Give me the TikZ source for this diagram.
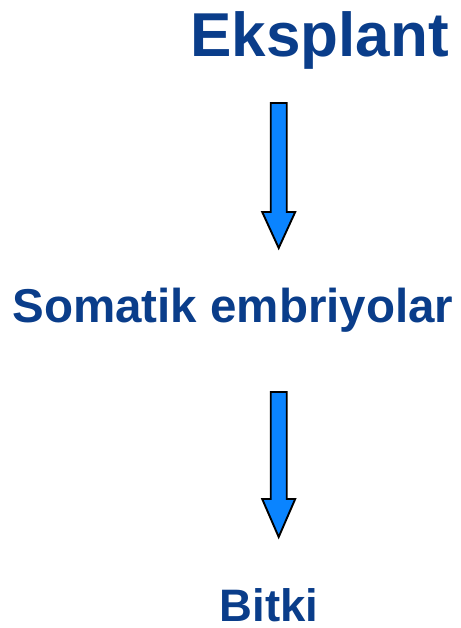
\documentclass[tikz,border=0pt]{standalone}
\usepackage{fontspec}
\setmainfont{Liberation Sans}
\definecolor{titleblue}{HTML}{0A3D8A}
\definecolor{arrowblue}{HTML}{0A84FF}
\tikzset{
  label text/.style={inner sep=0pt, anchor=base, text=titleblue, font=\bfseries},
  blockarrow/.style={draw=black, fill=arrowblue, line width=1.9pt, line join=miter}
}
% block arrow pointing down: top centre x, top y, head start y, tip y
\newcommand{\downblock}[4]{%
  \draw[blockarrow] (#1-8,-#2) -- (#1+8,-#2) -- (#1+8,-#3) -- (#1+16.5,-#3)
    -- (#1,-#4) -- (#1-16.5,-#3) -- (#1-8,-#3) -- cycle;}
\begin{document}
\begin{tikzpicture}[x=1pt,y=1pt]
  \useasboundingbox (0,0) rectangle (460,-628);
  \node[label text, font=\bfseries\fontsize{62}{62}\selectfont] (eksplant) at (319.5,-57) {Eksplant};
  \node[label text, font=\bfseries\fontsize{47.5}{47.5}\selectfont] (somatik) at (233,-322) {Somatik embriyolar};
  \node[label text, font=\bfseries\fontsize{45.5}{45.5}\selectfont] (bitki) at (269,-621) {Bitki};
  \downblock{278.7}{103}{212}{248}
  \downblock{278.7}{392}{499}{537}
\end{tikzpicture}
\end{document}
